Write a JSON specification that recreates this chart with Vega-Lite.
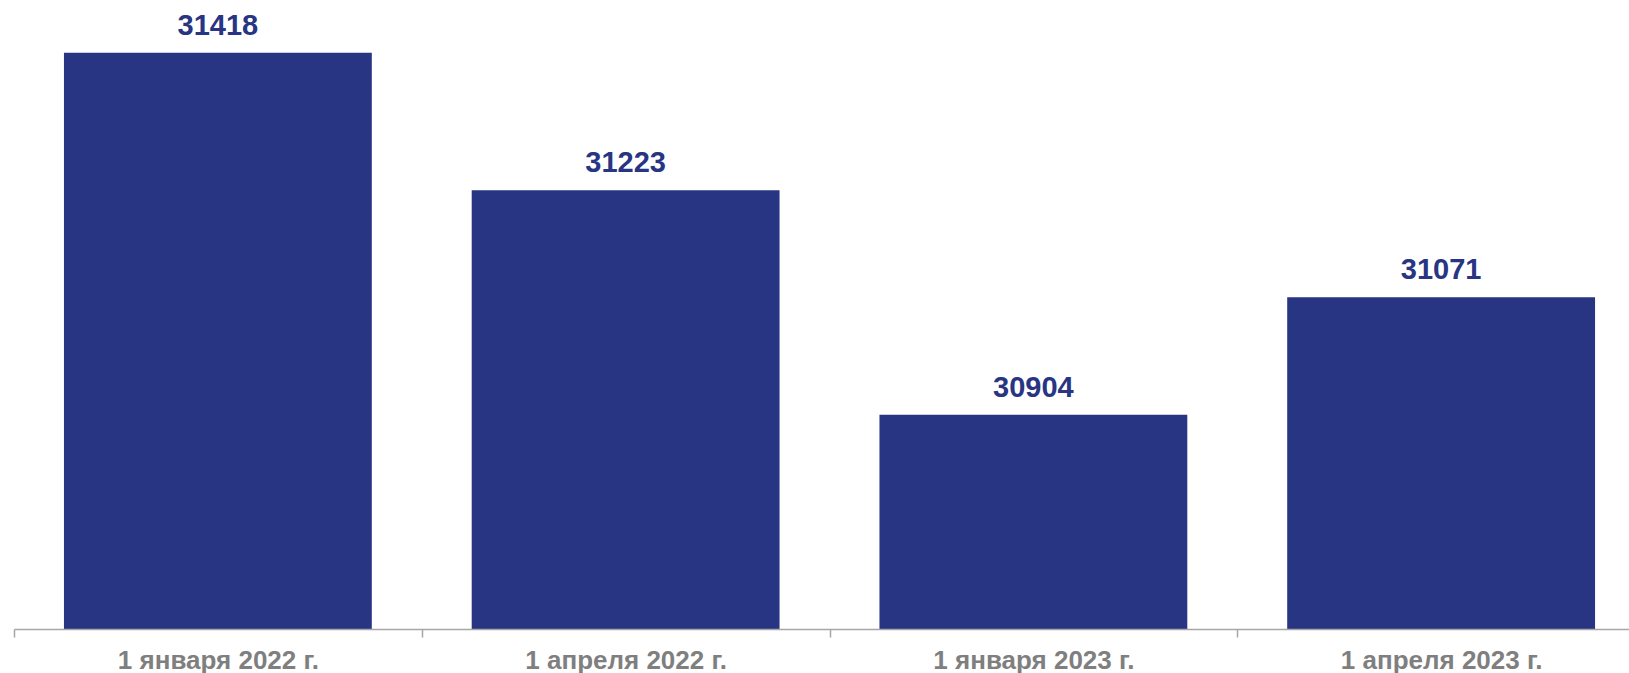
{
  "$schema": "https://vega.github.io/schema/vega-lite/v6.json",
  "autosize": "none",
  "width": 1615,
  "height": 629,
  "padding": {"left": 14, "top": 0, "right": 0, "bottom": 44},
  "background": "white",
  "data": {
    "values": [
      {"date": "1 января 2022 г.", "value": 31418},
      {"date": "1 апреля 2022 г.", "value": 31223},
      {"date": "1 января 2023 г.", "value": 30904},
      {"date": "1 апреля 2023 г.", "value": 31071}
    ]
  },
  "config": {"view": {"stroke": null}, "font": "Liberation Sans"},
  "encoding": {
    "x": {
      "field": "date",
      "type": "nominal",
      "sort": null,
      "scale": {"range": [0, 1631], "paddingInner": 0.245, "paddingOuter": 0.1225},
      "axis": {
        "title": null,
        "labelAngle": 0,
        "labelLimit": 0,
        "labelFont": "Liberation Sans",
        "labelFontSize": 26,
        "labelFontWeight": "bold",
        "labelColor": "#7f7f7f",
        "labelPadding": 10,
        "labelOffset": 203.875,
        "domainColor": "#a6a6a6",
        "domainWidth": 1.5,
        "tickColor": "#a6a6a6",
        "tickWidth": 1.5,
        "tickSize": 8,
        "tickOffset": -203.875,
        "zindex": 1
      }
    },
    "y": {
      "field": "value",
      "type": "quantitative",
      "scale": {"domain": [30600, 31493], "zero": false, "nice": false},
      "axis": null
    }
  },
  "layer": [
    {"mark": {"type": "bar", "color": "#283582"}, "encoding": {"y2": {"datum": 30600}}},
    {
      "mark": {"type": "text", "baseline": "alphabetic", "dy": -18, "fontSize": 29, "fontWeight": "bold", "color": "#283582"},
      "encoding": {"text": {"field": "value", "type": "quantitative", "format": "d"}}
    }
  ]
}
